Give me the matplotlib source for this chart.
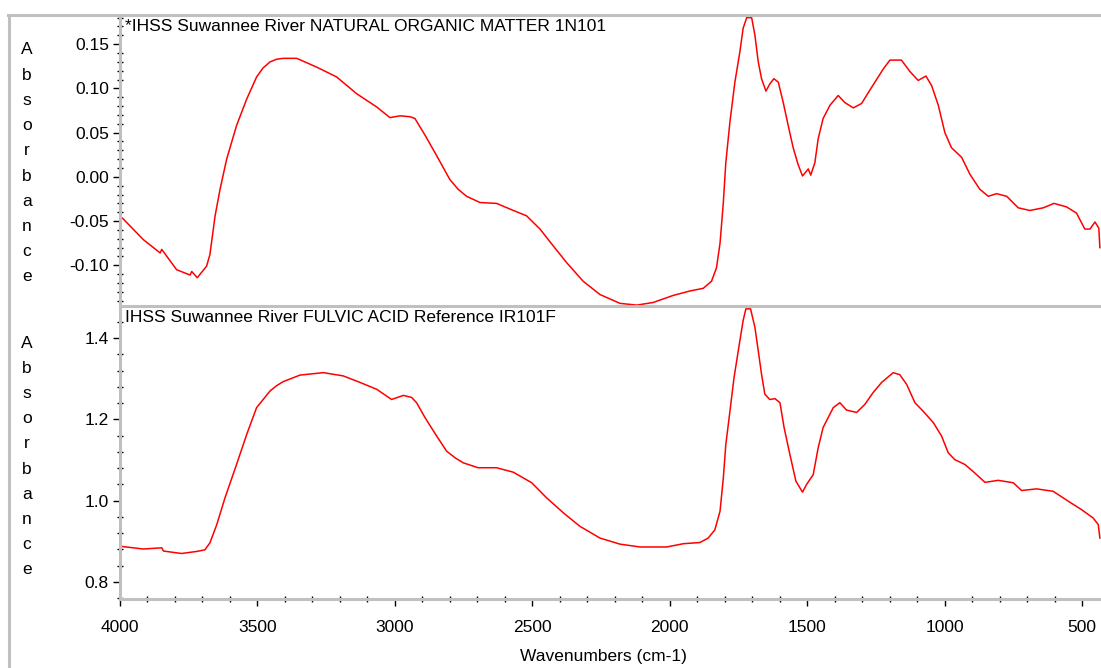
import matplotlib
matplotlib.use("Agg")
import matplotlib.pyplot as plt
from matplotlib.lines import Line2D
from matplotlib.ticker import MultipleLocator

plt.rcParams["font.family"] = ["Liberation Sans", "DejaVu Sans"]

# IHSS Suwannee River natural organic matter (1N101)
wn_nom = [4000, 3990, 3915, 3854, 3848, 3794, 3745, 3739, 3719, 3685, 3673,
          3654, 3636, 3612, 3576, 3539, 3503, 3480, 3454, 3430, 3406, 3357,
          3284, 3212, 3139, 3066, 3018, 2981, 2945, 2927, 2890, 2848, 2800,
          2770, 2739, 2690, 2630, 2569, 2521, 2472, 2424, 2375, 2315, 2254,
          2181, 2120, 2060, 1987, 1926, 1878, 1848, 1830, 1817, 1805, 1796,
          1781, 1763, 1745, 1733, 1720, 1702, 1690, 1678, 1666, 1650, 1636,
          1621, 1605, 1587, 1569, 1551, 1533, 1517, 1496, 1487, 1472, 1460,
          1442, 1417, 1387, 1363, 1332, 1302, 1266, 1223, 1199, 1157, 1126,
          1096, 1068, 1047, 1023, 999, 975, 938, 908, 872, 841, 811, 774,
          732, 690, 641, 602, 556, 520, 490, 471, 453, 439, 435]
abs_nom = [-0.045, -0.047, -0.071, -0.086, -0.082, -0.105, -0.111, -0.107,
           -0.114, -0.101, -0.088, -0.044, -0.014, 0.020, 0.058, 0.088, 0.113,
           0.123, 0.130, 0.133, 0.134, 0.134, 0.124, 0.113, 0.094, 0.079,
           0.067, 0.069, 0.068, 0.066, 0.047, 0.024, -0.003, -0.014, -0.022,
           -0.029, -0.030, -0.038, -0.044, -0.059, -0.078, -0.097, -0.118,
           -0.133, -0.143, -0.145, -0.142, -0.134, -0.129, -0.126, -0.118,
           -0.103, -0.075, -0.029, 0.016, 0.062, 0.107, 0.141, 0.168, 0.180,
           0.180, 0.160, 0.130, 0.111, 0.097, 0.105, 0.111, 0.107, 0.084,
           0.058, 0.033, 0.014, 0.001, 0.009, 0.002, 0.016, 0.043, 0.066,
           0.081, 0.092, 0.084, 0.078, 0.083, 0.101, 0.122, 0.132, 0.132,
           0.119, 0.109, 0.114, 0.103, 0.081, 0.050, 0.033, 0.022, 0.003,
           -0.014, -0.022, -0.019, -0.022, -0.035, -0.038, -0.035, -0.030,
           -0.034, -0.041, -0.059, -0.059, -0.051, -0.058, -0.080]

# IHSS Suwannee River fulvic acid reference (IR101F)
wn_fa = [4000, 3990, 3915, 3848, 3842, 3776, 3721, 3691, 3673, 3648, 3618,
         3576, 3539, 3503, 3454, 3430, 3406, 3345, 3260, 3188, 3127, 3066,
         3012, 2969, 2939, 2921, 2890, 2848, 2812, 2780, 2751, 2697, 2630,
         2569, 2502, 2448, 2387, 2327, 2254, 2181, 2108, 2011, 1951, 1890,
         1860, 1836, 1817, 1805, 1796, 1781, 1766, 1745, 1733, 1723, 1706,
         1690, 1678, 1666, 1654, 1636, 1617, 1599, 1584, 1563, 1541, 1517,
         1502, 1478, 1460, 1442, 1405, 1381, 1357, 1320, 1290, 1260, 1229,
         1187, 1163, 1138, 1108, 1078, 1041, 1011, 987, 963, 926, 890, 853,
         805, 750, 720, 665, 605, 544, 502, 459, 441, 435]
abs_fa = [0.888, 0.887, 0.881, 0.884, 0.876, 0.870, 0.875, 0.879, 0.896,
          0.941, 1.007, 1.089, 1.163, 1.229, 1.270, 1.283, 1.293, 1.309,
          1.315, 1.307, 1.291, 1.274, 1.249, 1.259, 1.254, 1.241, 1.204,
          1.159, 1.122, 1.105, 1.093, 1.081, 1.081, 1.070, 1.044, 1.007,
          0.970, 0.937, 0.908, 0.893, 0.886, 0.886, 0.894, 0.897, 0.908,
          0.928, 0.974, 1.056, 1.138, 1.220, 1.303, 1.393, 1.443, 1.472,
          1.472, 1.426, 1.369, 1.311, 1.262, 1.249, 1.251, 1.241, 1.180,
          1.114, 1.048, 1.021, 1.040, 1.064, 1.130, 1.180, 1.229, 1.241,
          1.223, 1.217, 1.237, 1.266, 1.291, 1.315, 1.310, 1.286, 1.241,
          1.220, 1.192, 1.159, 1.118, 1.101, 1.089, 1.068, 1.045, 1.050,
          1.044, 1.025, 1.029, 1.023, 0.996, 0.978, 0.957, 0.941, 0.908]

titles = ["*IHSS Suwannee River NATURAL ORGANIC MATTER 1N101",
          "IHSS Suwannee River FULVIC ACID Reference IR101F"]
ylabel = "Absorbance"
xlabel = "Wavenumbers (cm-1)"

W, H = 1101, 668
GREY = "#c0c0c0"
FS = 12.5

fig = plt.figure(figsize=(W / 100, H / 100), dpi=100)
fig.patch.set_facecolor("white")


def px_axes(x0, y0, x1, y1):
    return fig.add_axes([x0 / W, 1 - y1 / H, (x1 - x0) / W, (y1 - y0) / H])


ax2 = px_axes(120, 306, W, 599)
ax1 = px_axes(120, 15, W, 306)
ax1.patch.set_visible(False)
ax2.patch.set_visible(False)

ax1.plot(wn_nom, abs_nom, color="red", lw=1.1)
ax2.plot(wn_fa, abs_fa, color="red", lw=1.1)

ax1.set_ylim(-0.146, 0.183)
ax2.set_ylim(0.758, 1.479)
ax1.yaxis.set_major_locator(MultipleLocator(0.05))
ax1.yaxis.set_minor_locator(MultipleLocator(0.01))
ax2.yaxis.set_major_locator(MultipleLocator(0.2))
ax2.yaxis.set_minor_locator(MultipleLocator(0.04))
ax1.yaxis.set_major_formatter(lambda v, p: f"{v:.2f}".replace("-0.00", "0.00"))
ax2.yaxis.set_major_formatter(lambda v, p: f"{v:.1f}")

for ax in (ax1, ax2):
    ax.set_xlim(4000, 431)
    ax.xaxis.set_major_locator(MultipleLocator(500))
    ax.xaxis.set_minor_locator(MultipleLocator(100))
    for s in ("top", "right"):
        ax.spines[s].set_visible(False)
    for s in ("left", "bottom"):
        ax.spines[s].set_color(GREY)
        ax.spines[s].set_linewidth(2.2)
    ax.tick_params(axis="y", which="major", direction="out", length=5,
                   width=1, color="black", labelsize=FS, pad=3)
    ax.tick_params(axis="y", which="minor", direction="inout", length=4,
                   width=1, color="black")
    ax.tick_params(axis="x", which="major", direction="out", length=5,
                   width=1, color="black", labelsize=FS, pad=10)
    ax.tick_params(axis="x", which="minor", direction="inout", length=4,
                   width=1, color="black")

ax1.tick_params(axis="x", which="both", bottom=False, labelbottom=False)

for ax, title in zip((ax1, ax2), titles):
    ax.text(5 / (W - 120), 0.985, title, transform=ax.transAxes,
            ha="left", va="top", fontsize=FS)

# stacked letters for the y labels
for y_start in (50, 343):
    for i, ch in enumerate(ylabel):
        fig.text(27 / W, 1 - (y_start + 25.2 * i) / H, ch, ha="center",
                 va="center", fontsize=FS)

fig.text(603 / W, 1 - 657 / H, xlabel, ha="center", va="center", fontsize=FS)

# outer frame
fig.add_artist(Line2D([9 / W, 9 / W], [1 - 15 / H, 0], color=GREY, lw=2.2,
                      transform=fig.transFigure))
fig.add_artist(Line2D([8 / W, 1], [1 - 15 / H, 1 - 15 / H], color=GREY,
                      lw=2.2, transform=fig.transFigure))

fig.savefig("out.png", dpi=100)
